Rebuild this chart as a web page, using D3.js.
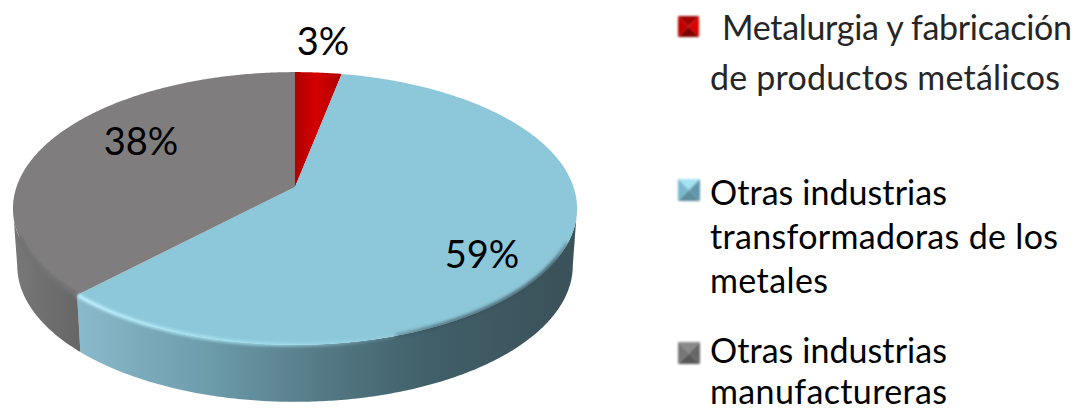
<!DOCTYPE html>
<html>
<head>
	<meta charset="utf-8">
	<script src="https://cdn.jsdelivr.net/npm/d3@7"></script>
	<style type="text/css">
		body { margin: 0; padding: 0; background: #fff; overflow: hidden; }
		svg { display: block; }
		text { font-family: Lato, "Open Sans", sans-serif; }
	</style>
</head>
<body>
	<script type="text/javascript">

		// data
		var categories = ["Metalurgia", "Otras transformadoras", "Otras manufactureras"];
		var shares = [0.031, 0.591, 0.378];
		var topColors = ["#c00000", "#8dc7da", "#7f7d7d"];
		var legendLines = [
			["Metalurgia y fabricación", "de productos metálicos"],
			["Otras industrias", "transformadoras de los", "metales"],
			["Otras industrias", "manufactureras"]
		];

		var width = 1089, height = 411;

		var svg = d3.select("body").append("svg")
			.attr("width", width)
			.attr("height", height);

		var defs = svg.append("defs");

		function addGradient(id, x1, x2, stops) {
			var g = defs.append("linearGradient").attr("id", id)
				.attr("gradientUnits", "userSpaceOnUse")
				.attr("x1", x1).attr("y1", 0).attr("x2", x2).attr("y2", 0);
			stops.forEach(function (s) {
				g.append("stop").attr("offset", s[0]).attr("stop-color", s[1]).attr("stop-opacity", s[2] === undefined ? 1 : s[2]);
			});
		}

		addGradient("wallBlue", 77, 560, [[0, "#8ab9cb"], [0.25, "#6f9fae"], [0.5, "#557b86"], [0.72, "#41606a"], [1, "#3b525a"]]);
		addGradient("wallGrey", 13, 80, [[0, "#787878"], [1, "#666666"]]);
		addGradient("rimBlue", 77, 420, [[0, "#c4f6ff"], [0.55, "#a5e4f2", 0.8], [1, "#a5e4f2", 0]]);
		addGradient("rimDark", 340, 577, [[0, "#3b525a", 0], [0.4, "#3b525a", 0.6], [0.9, "#3b525a", 0.8], [1, "#3b525a", 0]]);
		addGradient("topRed", 295, 342, [[0, "#b00000"], [0.45, "#d40000"], [1, "#b00000"]]);

		defs.append("filter").attr("id", "soft")
			.attr("x", "-5%").attr("y", "-20%").attr("width", "110%").attr("height", "140%")
			.append("feGaussianBlur").attr("stdDeviation", 1.6);
		defs.append("filter").attr("id", "keyBlur")
			.attr("x", "-10%").attr("y", "-10%").attr("width", "120%").attr("height", "120%")
			.append("feGaussianBlur").attr("stdDeviation", 0.8);

		// the pie is a flat disc seen in perspective, apex is not the middle of the ellipse
		var apexX = 295, apexY = 187;
		var tilt = 0.1575;
		var x = d3.scaleLinear().domain([-1, 1]).range([apexX - 278.5, apexX + 278.5]);
		var y = d3.scaleLinear().domain([-1, 1]).range([apexY - 133, apexY + 133]);

		function project(a, drop, shrink) {
			var u = Math.sin(a), v = -Math.cos(a), w = 1 - tilt * v;
			var px = x(u / w), py = y(v / w);
			if (drop) {
				px = apexX + (px - apexX) * shrink;
				py += drop;
			}
			return [px, py];
		}

		function rim(a0, a1, drop, shrink) {
			var n = Math.max(2, Math.ceil((a1 - a0) / 0.01));
			return d3.range(n + 1).map(function (i) {
				return project(a0 + (a1 - a0) * i / n, drop, shrink);
			});
		}

		var line = d3.line();
		var pie = d3.pie().sort(null);
		var arcs = pie(shares);

		// front wall only shows between the two side extremes of the disc
		var wallFrom = Math.PI - Math.acos(tilt), wallTo = Math.PI + Math.acos(tilt);
		var depth = 57, shrink = 0.985;

		var wallFills = [null, "url(#wallBlue)", "url(#wallGrey)"];
		arcs.forEach(function (d, i) {
			var a0 = Math.max(d.startAngle, wallFrom), a1 = Math.min(d.endAngle, wallTo);
			if (a1 <= a0) return;
			var pts = rim(a0, a1).concat(rim(a0, a1, depth, shrink).reverse());
			svg.append("path")
				.attr("d", line(pts) + "Z")
				.attr("fill", wallFills[i]);
		});

		// top face
		var faceFills = ["url(#topRed)", topColors[1], topColors[2]];
		arcs.forEach(function (d, i) {
			var pts = [[apexX, apexY]].concat(rim(d.startAngle, d.endAngle));
			svg.append("path")
				.attr("d", line(pts) + "Z")
				.attr("fill", faceFills[i]);
		});

		// bevel on the front edge
		var blue = arcs[1], grey = arcs[2];
		svg.append("path")
			.attr("d", line(rim(Math.PI * 0.9, blue.endAngle)))
			.attr("fill", "none").attr("stroke", "url(#rimBlue)").attr("stroke-width", 3.5)
			.attr("filter", "url(#soft)");
		svg.append("path")
			.attr("d", line(rim(wallFrom + 0.25, Math.PI * 0.9)))
			.attr("fill", "none").attr("stroke", "url(#rimDark)").attr("stroke-width", 5)
			.attr("filter", "url(#soft)");
		svg.append("path")
			.attr("d", line(rim(grey.startAngle, wallTo - 0.2)))
			.attr("fill", "none").attr("stroke", "#717171").attr("stroke-width", 5)
			.attr("filter", "url(#soft)");

		// slice labels
		var pct = d3.format(".0%");
		var labelAt = [[323, 55], [482, 268], [141, 155]];
		svg.selectAll("text.label").data(arcs).enter().append("text")
			.attr("class", "label")
			.attr("x", function (d, i) { return labelAt[i][0]; })
			.attr("y", function (d, i) { return labelAt[i][1]; })
			.attr("text-anchor", "middle")
			.attr("font-size", 38)
			.attr("fill", "#000")
			.text(function (d) { return pct(d.data); });

		// legend, little bevelled squares
		var legendKeys = [
			{x: 678, y: 16, s: 21, shades: ["#a00000", "#dc0000", "#7e0000", "#c00000"]},
			{x: 678, y: 179, s: 22, shades: ["#a5e2f2", "#5e98ac", "#5d8c9c", "#7ab8cc"]},
			{x: 678, y: 342, s: 22, shades: ["#8a8a8a", "#666666", "#595959", "#777777"]}
		];
		legendKeys.forEach(function (k) {
			var c = [k.x + k.s / 2, k.y + k.s / 2];
			var corners = [[k.x, k.y], [k.x + k.s, k.y], [k.x + k.s, k.y + k.s], [k.x, k.y + k.s]];
			var key = svg.append("g").attr("filter", "url(#keyBlur)");
			corners.forEach(function (p, i) {
				key.append("path")
					.attr("d", line([p, corners[(i + 1) % 4], c]) + "Z")
					.attr("fill", k.shades[i]);
			});
		});

		var legendBaselines = [[40, 90], [205, 249, 293], [363, 404]];
		var legendColors = ["#262626", "#000", "#000"];
		var legendX = [[722, 710], [710, 710, 710], [710, 710]];
		var legendWidths = [[350, 350], [237, 348, 118], [237, 237]];
		legendLines.forEach(function (lines, i) {
			lines.forEach(function (t, j) {
				svg.append("text")
					.attr("x", legendX[i][j])
					.attr("y", legendBaselines[i][j])
					.attr("font-size", 34)
					.attr("textLength", legendWidths[i][j])
					.attr("fill", legendColors[i])
					.text(t);
			});
		});

	</script>
</body>
</html>
